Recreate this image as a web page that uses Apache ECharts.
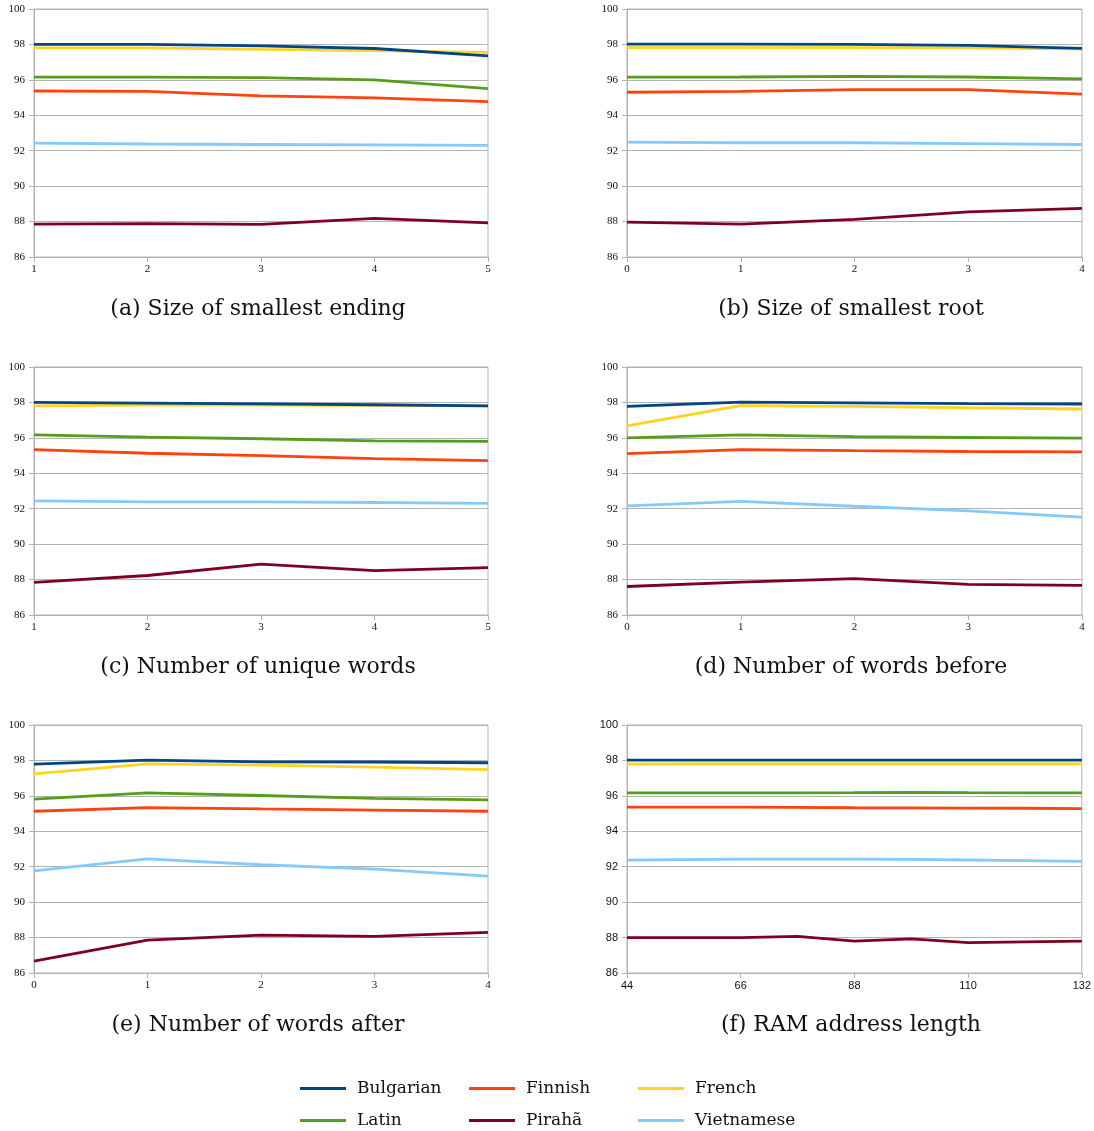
<!DOCTYPE html>
<html>
<head>
<meta charset="utf-8">
<script src="https://cdn.jsdelivr.net/npm/echarts@6/dist/echarts.min.js"></script>
<style>html,body{margin:0;padding:0;background:#fff;}#c{width:1094px;height:1131px;}</style>
</head>
<body>
<div id="c"></div>
<script>
// ---- data ----
const languages = ["Bulgarian", "Finnish", "French", "Latin", "Pirahã", "Vietnamese"];
const colors = ["#004586", "#ff420e", "#ffd320", "#579d1c", "#7e0021", "#83caff"];

const captions = ["(a) Size of smallest ending", "(b) Size of smallest root", "(c) Number of unique words",
  "(d) Number of words before", "(e) Number of words after", "(f) RAM address length"];

// (a) Size of smallest ending
const xA = [1, 2, 3, 4, 5];
const aBulgarian = [98.0, 98.0, 97.92, 97.77, 97.35];
const aFinnish = [95.37, 95.35, 95.1, 94.98, 94.77];
const aFrench = [97.8, 97.8, 97.72, 97.65, 97.55];
const aLatin = [96.15, 96.15, 96.13, 96.0, 95.5];
const aPiraha = [87.86, 87.88, 87.84, 88.18, 87.93];
const aVietnamese = [92.43, 92.38, 92.35, 92.33, 92.3];

// (b) Size of smallest root
const xB = [0, 1, 2, 3, 4];
const bBulgarian = [98.02, 98.02, 98.0, 97.95, 97.78];
const bFinnish = [95.3, 95.35, 95.45, 95.45, 95.2];
const bFrench = [97.82, 97.82, 97.82, 97.8, 97.75];
const bLatin = [96.15, 96.16, 96.2, 96.16, 96.05];
const bPiraha = [87.97, 87.86, 88.12, 88.55, 88.75];
const bVietnamese = [92.48, 92.45, 92.45, 92.4, 92.35];

// (c) Number of unique words
const xC = [1, 2, 3, 4, 5];
const cBulgarian = [98.0, 97.96, 97.92, 97.87, 97.81];
const cFinnish = [95.34, 95.13, 95.0, 94.83, 94.72];
const cFrench = [97.8, 97.85, 97.85, 97.83, 97.81];
const cLatin = [96.17, 96.04, 95.95, 95.83, 95.8];
const cPiraha = [87.84, 88.23, 88.87, 88.51, 88.68];
const cVietnamese = [92.44, 92.39, 92.39, 92.35, 92.3];

// (d) Number of words before
const xD = [0, 1, 2, 3, 4];
const dBulgarian = [97.78, 98.02, 97.97, 97.93, 97.91];
const dFinnish = [95.11, 95.34, 95.28, 95.23, 95.21];
const dFrench = [96.67, 97.82, 97.78, 97.7, 97.63];
const dLatin = [96.0, 96.17, 96.07, 96.02, 95.98];
const dPiraha = [87.61, 87.86, 88.05, 87.73, 87.67];
const dVietnamese = [92.16, 92.42, 92.14, 91.88, 91.52];

// (e) Number of words after
const xE = [0, 1, 2, 3, 4];
const eBulgarian = [97.79, 98.02, 97.92, 97.91, 97.87];
const eFinnish = [95.13, 95.34, 95.26, 95.19, 95.13];
const eFrench = [97.24, 97.8, 97.73, 97.62, 97.48];
const eLatin = [95.81, 96.17, 96.02, 95.86, 95.77];
const ePiraha = [86.67, 87.86, 88.14, 88.07, 88.29];
const eVietnamese = [91.77, 92.44, 92.11, 91.86, 91.47];

// (f) RAM address length
const xF = [44, 55, 66, 77, 88, 99, 110, 121, 132];
const fBulgarian = [98.02, 98.02, 98.02, 98.02, 98.02, 98.02, 98.02, 98.02, 98.02];
const fFinnish = [95.36, 95.36, 95.36, 95.35, 95.33, 95.32, 95.31, 95.3, 95.28];
const fFrench = [97.79, 97.8, 97.8, 97.8, 97.8, 97.8, 97.8, 97.8, 97.8];
const fLatin = [96.17, 96.17, 96.17, 96.17, 96.18, 96.2, 96.18, 96.17, 96.17];
const fPiraha = [88.0, 88.0, 88.0, 88.07, 87.8, 87.93, 87.72, 87.76, 87.8];
const fVietnamese = [92.37, 92.4, 92.43, 92.43, 92.43, 92.41, 92.38, 92.34, 92.3];

const panels = [
  { x: xA, xmin: 1, xmax: 5, xint: 1, series: [aBulgarian, aFinnish, aFrench, aLatin, aPiraha, aVietnamese] },
  { x: xB, xmin: 0, xmax: 4, xint: 1, series: [bBulgarian, bFinnish, bFrench, bLatin, bPiraha, bVietnamese] },
  { x: xC, xmin: 1, xmax: 5, xint: 1, series: [cBulgarian, cFinnish, cFrench, cLatin, cPiraha, cVietnamese] },
  { x: xD, xmin: 0, xmax: 4, xint: 1, series: [dBulgarian, dFinnish, dFrench, dLatin, dPiraha, dVietnamese] },
  { x: xE, xmin: 0, xmax: 4, xint: 1, series: [eBulgarian, eFinnish, eFrench, eLatin, ePiraha, eVietnamese] },
  { x: xF, xmin: 44, xmax: 132, xint: 22, series: [fBulgarian, fFinnish, fFrench, fLatin, fPiraha, fVietnamese] }
];

// ---- layout ----
const gridLeft = [34, 627];
const gridWidth = [454, 455];
const gridTop = [9, 367, 725];
const gridHeight = 248;
const captionX = [258, 851];
const captionY = [309, 667, 1025];
const gray = "#b3b3b3";

const grids = [], xAxes = [], yAxes = [], series = [], graphics = [];
panels.forEach((p, i) => {
  const col = i % 2, row = Math.floor(i / 2);
  const sans = i === 5;
  const fam = sans ? "Liberation Sans" : "Liberation Serif";
  grids.push({ left: gridLeft[col], top: gridTop[row], width: gridWidth[col], height: gridHeight,
    show: true, borderColor: gray, borderWidth: 1, backgroundColor: "transparent" });
  xAxes.push({ type: "value", gridIndex: i, min: p.xmin, max: p.xmax, interval: p.xint,
    axisLine: { show: true, lineStyle: { color: gray, width: 1 } },
    axisTick: { show: true, length: 5, lineStyle: { color: gray } },
    splitLine: { show: false },
    axisLabel: { margin: 7, fontFamily: fam, fontSize: 11, color: "#111" } });
  yAxes.push({ type: "value", gridIndex: i, min: 86, max: 100, interval: 2,
    axisLine: { show: true, lineStyle: { color: gray, width: 1 } },
    axisTick: { show: true, length: 5, lineStyle: { color: gray } },
    splitLine: { show: true, lineStyle: { color: gray, width: 1 } },
    axisLabel: { margin: 9, fontFamily: fam, fontSize: 11, color: "#111" } });
  p.series.forEach((vals, k) => {
    series.push({ type: "line", name: languages[k], xAxisIndex: i, yAxisIndex: i,
      data: p.x.map((xv, j) => [xv, vals[j]]),
      symbol: "none", smooth: false, animation: false,
      z: 10 - k,
      lineStyle: { color: colors[k], width: 2.8 }, itemStyle: { color: colors[k] } });
  });
  graphics.push({ type: "text", x: captionX[col], y: captionY[row],
    style: { text: captions[i], fontFamily: "DejaVu Serif", fontSize: 22, fill: "#111",
      textAlign: "center", textVerticalAlign: "middle" } });
});

// legend: 3 columns x 2 rows
const legendLeft = [300, 469, 638];
const legendTop = [1080, 1112];
const legends = languages.map((name, k) => ({
  data: [name], selectedMode: false, orient: "horizontal",
  left: legendLeft[k % 3], top: legendTop[Math.floor(k / 3)], padding: 0,
  icon: "rect", itemWidth: 46, itemHeight: 3, itemGap: 0,
  textStyle: { fontFamily: "DejaVu Serif", fontSize: 17, color: "#111", padding: [0, 0, 0, 6] }
}));

const chart = echarts.init(document.getElementById("c"), null, { renderer: "canvas" });
chart.setOption({
  animation: false,
  backgroundColor: "#fff",
  grid: grids, xAxis: xAxes, yAxis: yAxes, series: series,
  legend: legends,
  graphic: graphics
});
</script>
</body>
</html>
